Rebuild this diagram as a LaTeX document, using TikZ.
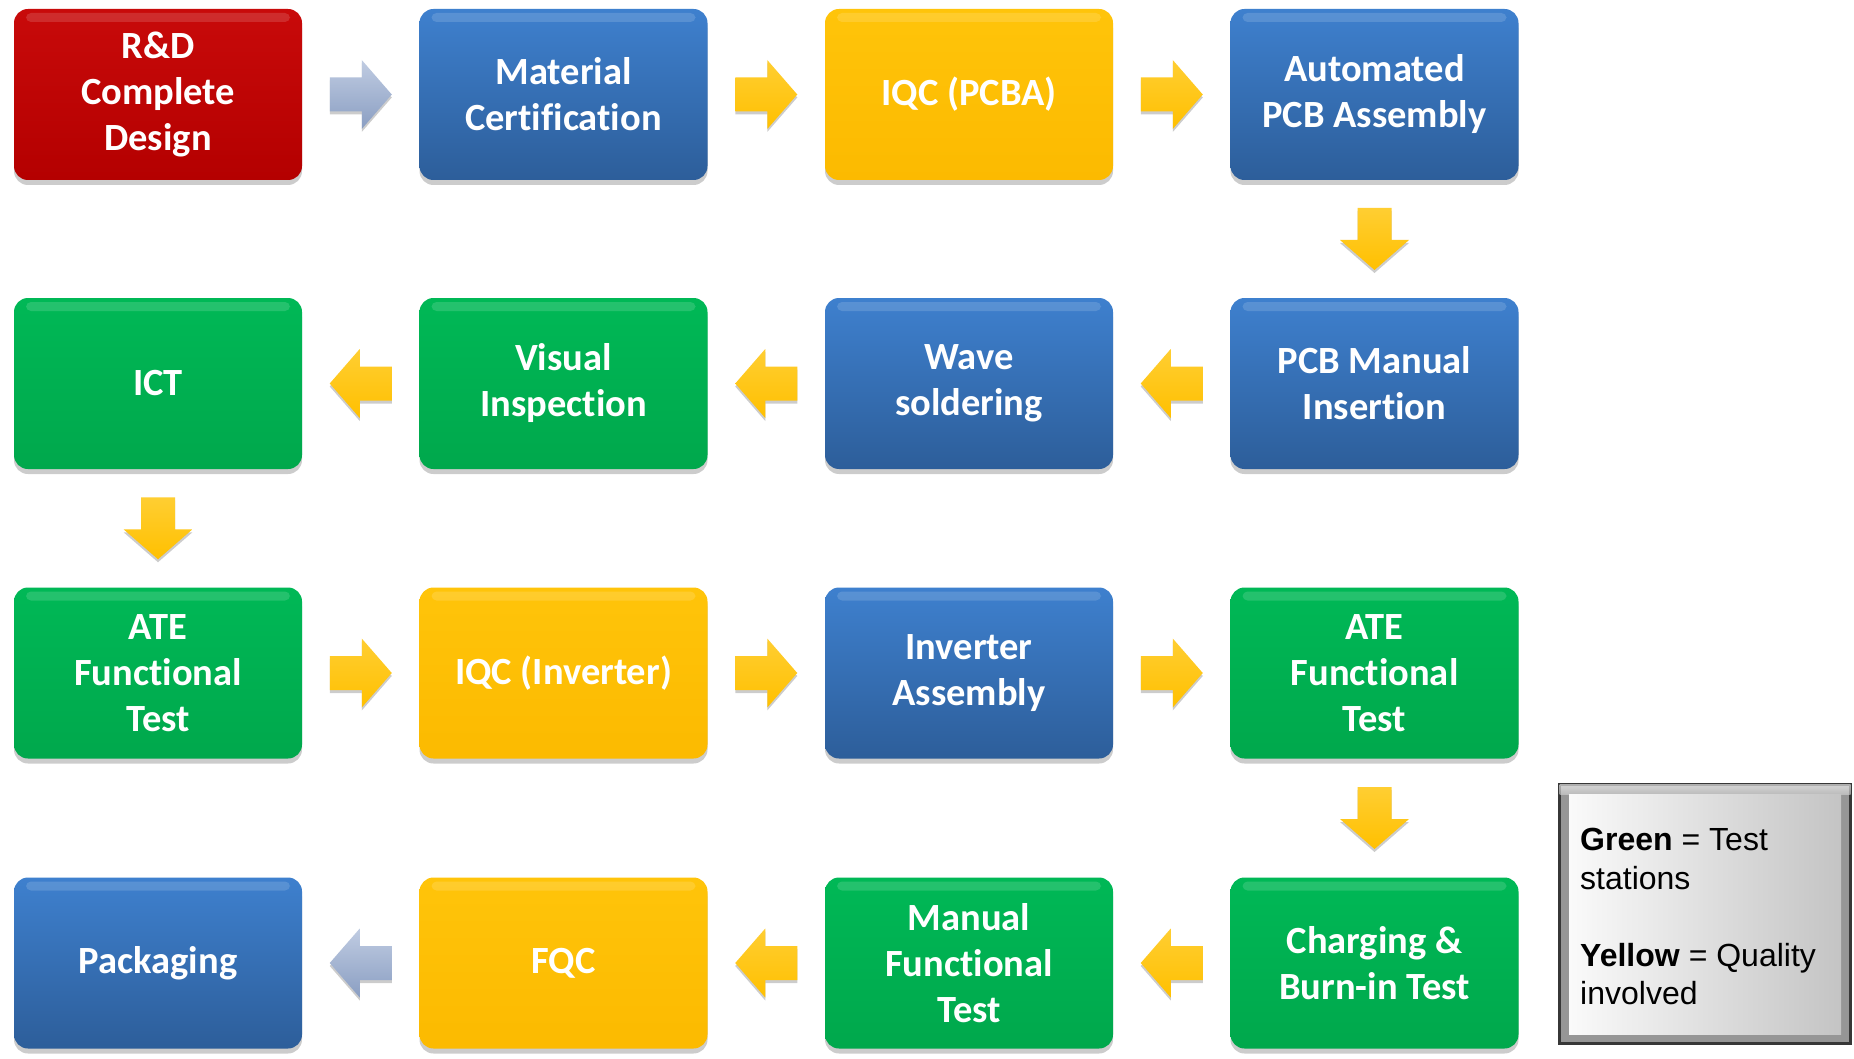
\documentclass[tikz,border=0pt]{standalone}
\usepackage{fontspec}
\setmainfont{Carlito}[Ligatures=NoCommon]
\newfontfamily\arialf{Liberation Sans}
\usetikzlibrary{shadows,calc}
\definecolor{redT}{RGB}{200,10,10}
\definecolor{redB}{RGB}{180,0,0}
\definecolor{bluT}{RGB}{62,128,206}
\definecolor{bluB}{RGB}{45,94,154}
\definecolor{yelT}{RGB}{255,196,10}
\definecolor{yelB}{RGB}{252,186,0}
\definecolor{grnT}{RGB}{0,184,86}
\definecolor{grnB}{RGB}{0,168,76}
\definecolor{arrY}{RGB}{255,192,0}
\definecolor{arrYT}{RGB}{255,206,50}
\definecolor{arrGT}{RGB}{192,204,226}
\definecolor{arrGB}{RGB}{138,158,194}
\definecolor{frameC}{RGB}{150,150,150}
\definecolor{frameD}{RGB}{55,55,55}
\begin{document}
\begin{tikzpicture}[x=1pt,y=-1pt,
  box/.style={minimum width=288pt, minimum height=171pt, rounded corners=14pt,
    align=center, text=white, inner sep=0pt,
    font=\bfseries\fontsize{38.5}{46}\selectfont,
    drop shadow={shadow xshift=0pt, shadow yshift=-5pt, opacity=0.2, fill=black},
    path picture={\fill[white,opacity=0.14,rounded corners=5pt]
      ([shift={(12pt,-4pt)}]path picture bounding box.north west) rectangle
      ([shift={(-12pt,-13pt)}]path picture bounding box.north east);}},
  redbox/.style={box, top color=redT, bottom color=redB},
  bluebox/.style={box, top color=bluT, bottom color=bluB},
  yelbox/.style={box, top color=yelT, bottom color=yelB},
  grnbox/.style={box, top color=grnT, bottom color=grnB},
  yarr/.style={top color=arrYT, bottom color=arrY, drop shadow={shadow xshift=0pt, shadow yshift=-3pt, opacity=0.2, fill=black}},
  garr/.style={top color=arrGT, bottom color=arrGB, drop shadow={shadow xshift=0pt, shadow yshift=-3pt, opacity=0.2, fill=black}},
  rarr/.pic={\path[#1] (-31,-17) -- (1,-17) -- (1,-34.5) -- (31,0) -- (1,34.5) -- (1,17) -- (-31,17) -- cycle;},
  larr/.pic={\path[#1] (31,-17) -- (-1,-17) -- (-1,-34.5) -- (-31,0) -- (-1,34.5) -- (-1,17) -- (31,17) -- cycle;},
  darr/.pic={\path[#1] (-17,-31) -- (17,-31) -- (17,1) -- (34.5,1) -- (0,31) -- (-34.5,1) -- (-17,1) -- cycle;}
]
\fill[white] (0,0) rectangle (1854,1059);
\useasboundingbox (0,0) rectangle (1854,1059);

% row 1
\node[redbox]  (rd)   at (158,94.5)    {R\&D\\Complete\\Design};
\node[bluebox] (mat)  at (563.5,94.5)  {Material\\Certification};
\node[yelbox]  (iqc1) at (969,94.5)    {IQC (PCBA)};
\node[bluebox] (auto) at (1374.5,94.5) {Automated\\PCB Assembly};
% row 2
\node[bluebox] (pcbm) at (1374.5,383.5) {PCB Manual\\Insertion};
\node[bluebox] (wave) at (969,383.5)    {Wave\\soldering};
\node[grnbox]  (vis)  at (563.5,383.5)  {Visual\\Inspection};
\node[grnbox]  (ict)  at (158,383.5)    {ICT};
% row 3
\node[grnbox]  (ate1) at (158,673)    {ATE\\Functional\\Test};
\node[yelbox]  (iqc2) at (563.5,673)  {IQC (Inverter)};
\node[bluebox] (inv)  at (969,673)    {Inverter\\Assembly};
\node[grnbox]  (ate2) at (1374.5,673) {ATE\\Functional\\Test};
% row 4
\node[grnbox]  (chg)  at (1374.5,963) {Charging \&\\Burn-in Test};
\node[grnbox]  (man)  at (969,963)    {Manual\\Functional\\Test};
\node[yelbox]  (fqc)  at (563.5,963)  {FQC};
\node[bluebox] (pack) at (158,963)    {Packaging};

% arrows
\pic at ($(rd.east)!0.5!(mat.west)$) {rarr=garr};
\pic at ($(mat.east)!0.5!(iqc1.west)$) {rarr=yarr};
\pic at ($(iqc1.east)!0.5!(auto.west)$) {rarr=yarr};
\pic at ($(auto.south)!0.5!(pcbm.north)$) {darr=yarr};
\pic at ($(pcbm.west)!0.5!(wave.east)$) {larr=yarr};
\pic at ($(wave.west)!0.5!(vis.east)$) {larr=yarr};
\pic at ($(vis.west)!0.5!(ict.east)$) {larr=yarr};
\pic at ($(ict.south)!0.5!(ate1.north)$) {darr=yarr};
\pic at ($(ate1.east)!0.5!(iqc2.west)$) {rarr=yarr};
\pic at ($(iqc2.east)!0.5!(inv.west)$) {rarr=yarr};
\pic at ($(inv.east)!0.5!(ate2.west)$) {rarr=yarr};
\pic at ($(ate2.south)!0.5!(chg.north)$) {darr=yarr};
\pic at ($(chg.west)!0.5!(man.east)$) {larr=yarr};
\pic at ($(man.west)!0.5!(fqc.east)$) {larr=yarr};
\pic at ($(fqc.west)!0.5!(pack.east)$) {larr=garr};

% legend
\node[minimum width=291pt, minimum height=259pt, inner sep=0pt,
  fill=frameC, draw=frameD, line width=3pt] (leg) at (1705,914) {};
\shade[top color=white, bottom color=white!60!frameC, opacity=0.6]
  ([shift={(1.5pt,-1.5pt)}]leg.north west) rectangle ([shift={(-1.5pt,-11pt)}]leg.north east);
\shade[left color={rgb,255:red,250;green,250;blue,250}, right color={rgb,255:red,196;green,196;blue,196}]
  ([shift={(11pt,-11pt)}]leg.north west) rectangle ([shift={(-11pt,11pt)}]leg.south east);
\node[anchor=north west, inner sep=0pt, align=left, text=black,
  font=\arialf\fontsize{32}{38.5}\selectfont] (legtxt) at (1580,828)
  {\textbf{Green} = Test\\stations\\[38.5pt]\textbf{Yellow} = Quality\\involved};
\end{tikzpicture}
\end{document}
